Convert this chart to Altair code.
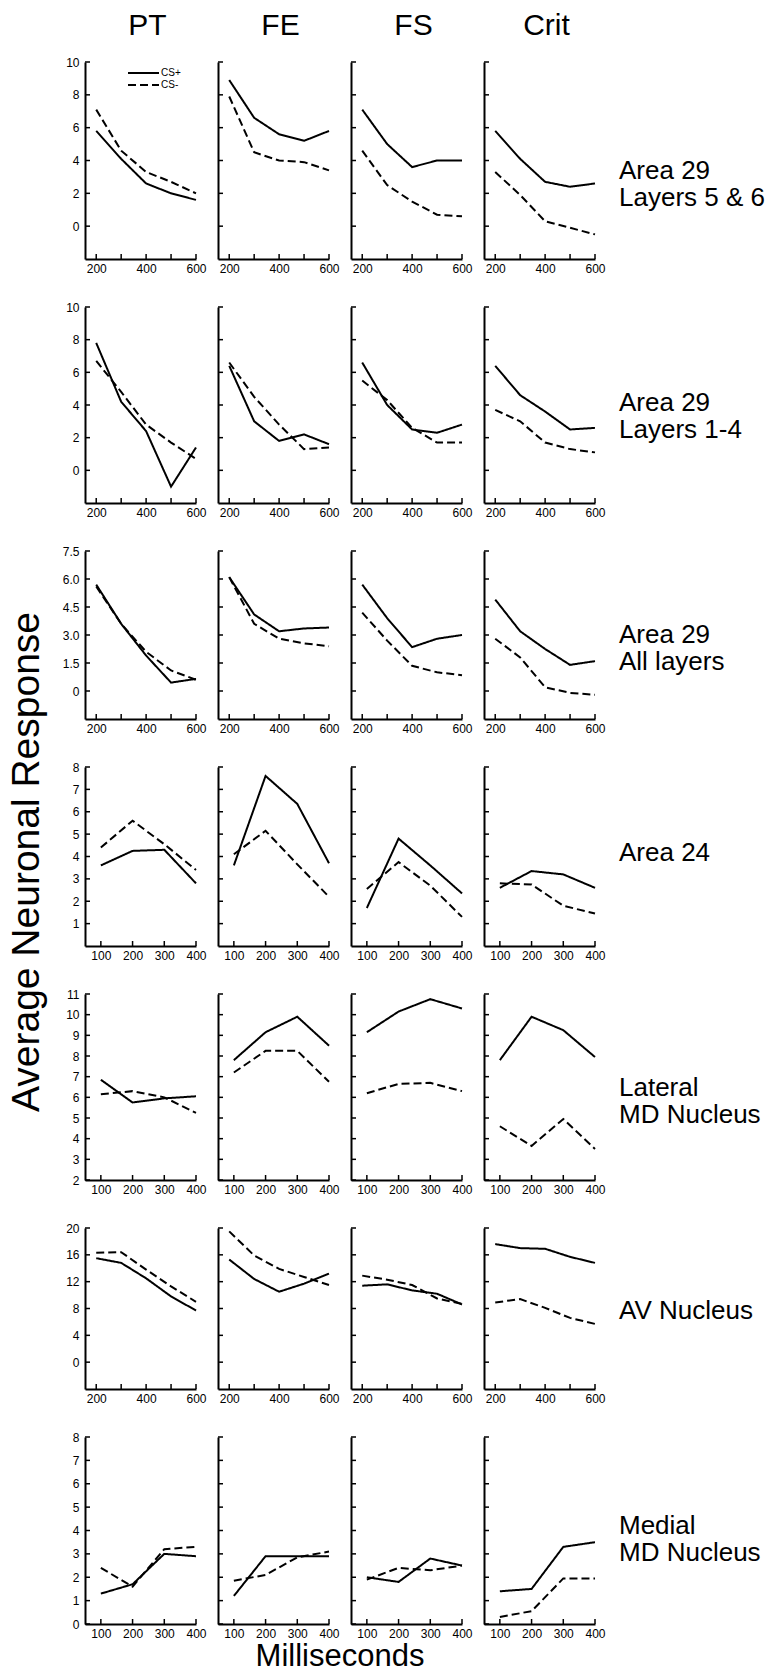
import altair as alt
import pandas as pd

FONT = "Liberation Sans"

CONDITIONS = ["PT", "FE", "FS", "Crit"]
STIMULI = ["CS+", "CS-"]

MS_LONG = [200, 300, 400, 500, 600]
MS_SHORT = [100, 200, 300, 400]
MS_LONG_LABELS = [200, 400, 600]

REGION_LABELS = [
    "Area 29\nLayers 5 & 6",
    "Area 29\nLayers 1-4",
    "Area 29\nAll layers",
    "Area 24",
    "Lateral\nMD Nucleus",
    "AV Nucleus",
    "Medial\nMD Nucleus",
]

# Each block: one list per condition (PT, FE, FS, Crit)
a29_deep_plus = [
    [5.8, 4.1, 2.6, 2.0, 1.6],
    [8.9, 6.6, 5.6, 5.2, 5.8],
    [7.1, 5.0, 3.6, 4.0, 4.0],
    [5.8, 4.1, 2.7, 2.4, 2.6],
]
a29_deep_minus = [
    [7.1, 4.6, 3.3, 2.7, 2.0],
    [7.9, 4.5, 4.0, 3.9, 3.4],
    [4.6, 2.5, 1.5, 0.7, 0.6],
    [3.3, 1.9, 0.3, -0.1, -0.5],
]
a29_sup_plus = [
    [7.8, 4.2, 2.4, -1.0, 1.4],
    [6.4, 3.0, 1.8, 2.2, 1.6],
    [6.6, 4.0, 2.5, 2.3, 2.8],
    [6.4, 4.6, 3.6, 2.5, 2.6],
]
a29_sup_minus = [
    [6.7, 4.8, 2.8, 1.7, 0.7],
    [6.6, 4.5, 2.8, 1.3, 1.4],
    [5.5, 4.3, 2.6, 1.7, 1.7],
    [3.7, 3.0, 1.7, 1.3, 1.1],
]
a29_all_plus = [
    [5.7, 3.6, 1.9, 0.45, 0.65],
    [6.1, 4.1, 3.2, 3.35, 3.4],
    [5.7, 3.9, 2.35, 2.8, 3.0],
    [4.9, 3.2, 2.25, 1.4, 1.6],
]
a29_all_minus = [
    [5.6, 3.6, 2.1, 1.1, 0.6],
    [6.1, 3.6, 2.8, 2.55, 2.4],
    [4.2, 2.7, 1.35, 1.0, 0.85],
    [2.8, 1.8, 0.2, -0.1, -0.2],
]
a24_plus = [
    [3.6, 4.25, 4.3, 2.8],
    [3.6, 7.6, 6.35, 3.7],
    [1.7, 4.8, 3.6, 2.35],
    [2.6, 3.35, 3.2, 2.6],
]
a24_minus = [
    [4.4, 5.6, 4.55, 3.4],
    [4.1, 5.15, 3.65, 2.2],
    [2.55, 3.75, 2.7, 1.3],
    [2.8, 2.75, 1.8, 1.45],
]
lat_md_plus = [
    [6.85, 5.75, 5.95, 6.05],
    [7.8, 9.15, 9.9, 8.5],
    [9.15, 10.15, 10.75, 10.3],
    [7.8, 9.9, 9.25, 7.95],
]
lat_md_minus = [
    [6.15, 6.3, 6.0, 5.25],
    [7.2, 8.25, 8.25, 6.75],
    [6.2, 6.65, 6.7, 6.3],
    [4.6, 3.65, 4.95, 3.5],
]
av_plus = [
    [15.5, 14.8, 12.5, 9.8, 7.7],
    [15.3, 12.4, 10.5, 11.7, 13.2],
    [11.4, 11.6, 10.7, 10.2, 8.6],
    [17.6, 17.0, 16.9, 15.7, 14.8],
]
av_minus = [
    [16.3, 16.4, 13.8, 11.3, 9.0],
    [19.5, 15.9, 13.9, 12.7, 11.5],
    [12.9, 12.3, 11.5, 9.5, 8.7],
    [8.9, 9.4, 8.1, 6.6, 5.7],
]
med_md_plus = [
    [1.3, 1.7, 3.0, 2.9],
    [1.2, 2.9, 2.9, 2.9],
    [2.0, 1.8, 2.8, 2.5],
    [1.4, 1.5, 3.3, 3.5],
]
med_md_minus = [
    [2.4, 1.6, 3.2, 3.3],
    [1.85, 2.1, 2.85, 3.1],
    [1.9, 2.4, 2.3, 2.5],
    [0.3, 0.55, 1.95, 1.95],
]

PLUS = [a29_deep_plus, a29_sup_plus, a29_all_plus, a24_plus, lat_md_plus, av_plus, med_md_plus]
MINUS = [a29_deep_minus, a29_sup_minus, a29_all_minus, a24_minus, lat_md_minus, av_minus, med_md_minus]

X_VALUES = [MS_LONG, MS_LONG, MS_LONG, MS_SHORT, MS_SHORT, MS_LONG, MS_SHORT]
X_LABELS = [MS_LONG_LABELS, MS_LONG_LABELS, MS_LONG_LABELS, MS_SHORT, MS_SHORT, MS_LONG_LABELS, MS_SHORT]
X_DOMAINS = [[155, 600], [155, 600], [155, 600], [50, 400], [50, 400], [155, 600], [50, 400]]

Y_DOMAINS = [[-2, 10], [-2, 10], [-1.5, 7.5], [0, 8], [2, 11], [-4, 20], [0, 8]]
Y_TICKS = [
    [0, 2, 4, 6, 8, 10],
    [0, 2, 4, 6, 8, 10],
    [0, 1.5, 3, 4.5, 6, 7.5],
    [1, 2, 3, 4, 5, 6, 7, 8],
    [2, 3, 4, 5, 6, 7, 8, 9, 10, 11],
    [0, 4, 8, 12, 16, 20],
    [0, 1, 2, 3, 4, 5, 6, 7, 8],
]

PANEL_W = 111
ROW_HEIGHTS = [197, 196, 168, 179, 186, 161, 187]
ROW_LABEL_SHIFT = [10, -2, 0, -4, 1, 2, -5]
TICK_LEN = 5


def panel(r, c):
    xs = X_VALUES[r]
    h = ROW_HEIGHTS[r]
    df = pd.DataFrame({
        "ms": xs + xs,
        "response": PLUS[r][c] + MINUS[r][c],
        "stimulus": [STIMULI[0]] * len(xs) + [STIMULI[1]] * len(xs),
    })
    xsc = alt.Scale(domain=X_DOMAINS[r], nice=False, zero=False)
    ysc = alt.Scale(domain=Y_DOMAINS[r], nice=False, zero=False)

    yaxis_kw = dict(values=Y_TICKS[r], labels=(c == 0), title=None, labelPadding=6)
    if r == 2:
        yaxis_kw["labelExpr"] = "datum.value == 0 ? '0' : format(datum.value, '.1f')"
    xaxis = alt.Axis(values=X_LABELS[r], title=None, labelPadding=4)
    yaxis = alt.Axis(**yaxis_kw)

    lines = alt.Chart(df).mark_line(color="black", strokeWidth=2).encode(
        x=alt.X("ms:Q", scale=xsc, axis=xaxis),
        y=alt.Y("response:Q", scale=ysc, axis=yaxis),
        strokeDash=alt.StrokeDash(
            "stimulus:N",
            scale=alt.Scale(domain=STIMULI, range=[[1, 0], [8, 4]]),
            legend=None,
        ),
    )

    # inward tick marks along both axes
    yticks = alt.Chart(pd.DataFrame({"response": Y_TICKS[r]})).mark_rule(
        color="black", strokeWidth=1.5
    ).encode(
        y=alt.Y("response:Q", scale=ysc, axis=yaxis),
        x=alt.value(0),
        x2=alt.value(TICK_LEN),
    )
    xticks = alt.Chart(pd.DataFrame({"ms": xs})).mark_rule(
        color="black", strokeWidth=1.5
    ).encode(
        x=alt.X("ms:Q", scale=xsc, axis=xaxis),
        y=alt.value(h),
        y2=alt.value(h - TICK_LEN),
    )
    layers = [lines, yticks, xticks]

    if r == 0:
        layers.append(
            alt.Chart(pd.DataFrame({"t": [CONDITIONS[c]]})).mark_text(
                font=FONT, fontSize=30, align="center", baseline="middle", color="black",
            ).encode(text="t:N", x=alt.value(PANEL_W / 2 + 7), y=alt.value(-36))
        )

    if r == 0 and c == 0:
        for i, (stim, dash) in enumerate(zip(STIMULI, [[1, 0], [8, 4]])):
            ypos = 11 + 12 * i
            layers.append(
                alt.Chart(pd.DataFrame({"s": [stim]})).mark_rule(
                    color="black", strokeWidth=2, strokeDash=dash
                ).encode(x=alt.value(43), x2=alt.value(74), y=alt.value(ypos))
            )
            layers.append(
                alt.Chart(pd.DataFrame({"s": [stim]})).mark_text(
                    font=FONT, fontSize=10, align="left", baseline="middle", color="black"
                ).encode(text="s:N", x=alt.value(76), y=alt.value(ypos))
            )

    if c == 3:
        layers.append(
            alt.Chart(pd.DataFrame({"t": [REGION_LABELS[r]]})).mark_text(
                font=FONT, fontSize=26, lineHeight=27, lineBreak="\n",
                align="left", baseline="middle", color="black",
            ).encode(
                text="t:N",
                x=alt.value(PANEL_W + 24),
                y=alt.value(h / 2 + ROW_LABEL_SHIFT[r]),
            )
        )

    if r == 3 and c == 0:
        layers.append(
            alt.Chart(pd.DataFrame({"t": ["Average Neuronal Response"]})).mark_text(
                font=FONT, fontSize=39, angle=270, align="center",
                baseline="alphabetic", color="black",
            ).encode(text="t:N", x=alt.value(-46), y=alt.value(95))
        )

    if r == 6 and c == 1:
        layers.append(
            alt.Chart(pd.DataFrame({"t": ["Milliseconds"]})).mark_text(
                font=FONT, fontSize=31, align="center", baseline="middle", color="black",
            ).encode(text="t:N", x=alt.value(PANEL_W + 11), y=alt.value(h + 33))
        )

    return alt.layer(*layers).properties(width=PANEL_W, height=h)


panels = [panel(r, c) for r in range(len(REGION_LABELS)) for c in range(len(CONDITIONS))]

chart = alt.concat(
    *panels, columns=4, spacing={"row": 48, "column": 22}, bounds="flush"
).properties(
    padding={"left": 7, "top": 11, "right": 2, "bottom": 2},
    background="white",
).configure_view(
    stroke=None
).configure_axis(
    domainColor="black",
    domainWidth=2,
    ticks=False,
    grid=False,
    labelFont=FONT,
    labelFontSize=12,
    labelColor="black",
    labelFlush=False,
    labelOverlap=False,
)

chart.save("out.html", embed_options={"renderer": "svg", "actions": False})
